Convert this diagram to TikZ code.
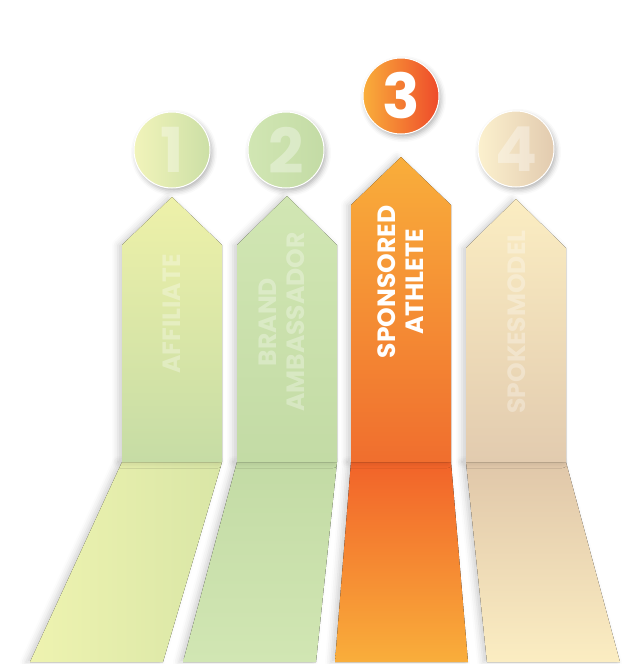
\documentclass[tikz,border=0pt]{standalone}
\usepackage{fontspec}
\setmainfont{Poppins}
\usetikzlibrary{shadows.blur}

\definecolor{affTop}{HTML}{EEF1A9}
\definecolor{affBot}{HTML}{C6DCA5}
\definecolor{affFloor}{HTML}{EEF3B0}
\definecolor{affFloorR}{HTML}{D9E6A6}
\definecolor{braTop}{HTML}{D1E6B3}
\definecolor{braBot}{HTML}{C3DBA5}
\definecolor{spoTop}{HTML}{F9AE3B}
\definecolor{spoBot}{HTML}{F06E2E}
\definecolor{spoRed}{HTML}{EE4A2A}
\definecolor{modTop}{HTML}{FBEDC2}
\definecolor{modBot}{HTML}{E2CBAF}

\tikzset{
  softshadow/.style={blur shadow={shadow xshift=-4pt, shadow yshift=0pt,
      shadow blur radius=6pt, shadow opacity=18}},
  badge/.style={circle, minimum size=76pt, inner sep=0pt, draw=white,
      line width=1pt, font=\bfseries\fontsize{62}{62}\selectfont,
      blur shadow={shadow xshift=2pt, shadow yshift=-3pt,
      shadow blur radius=5pt, shadow opacity=30}},
  steplabel/.style={rotate=90, align=center, text=white,
      font=\bfseries\fontsize{25}{28}\selectfont}
}

\newcommand{\ribbon}[7]
{
\def\rbL{#1} % left edge of the column
\def\rbTip{#2} % tip of the arrow head
\def\rbSh{#3} % shoulders of the arrow head
\def\rbBL{#4} % left end of the strip on the floor

\pgfmathsetmacro{\rbR}{\rbL+100} % right edge of the column
\pgfmathsetmacro{\rbM}{\rbL+50} % middle of the column
\pgfmathsetmacro{\rbBR}{\rbBL+133} % right end of the strip

% strip on the floor
\fill[softshadow, #7] (\rbL,462) -- (\rbR,462) -- (\rbBR,662) -- (\rbBL,662) -- cycle;
% column with its arrow head
\fill[softshadow, top color=#5, bottom color=#6]
  (\rbL,462) -- (\rbL,\rbSh) -- (\rbM,\rbTip) -- (\rbR,\rbSh) -- (\rbR,462) -- cycle;
}

\begin{document}
\begin{tikzpicture}[x=1pt, y=-1pt]
\useasboundingbox (0,0) rectangle (642,664);

% the four ribbons
\ribbon{122}{197}{245}{30}{affTop}{affBot}{left color=affFloor, right color=affFloorR}
\ribbon{237}{196}{245}{183}{braTop}{braBot}{top color=braBot, bottom color=braTop}
\ribbon{351}{157}{205}{335}{spoTop}{spoBot}{top color=spoBot!90!red, bottom color=spoTop}
\ribbon{466}{199}{248}{487}{modTop}{modBot}{top color=modBot!95!brown, bottom color=modTop}

% number badges
\foreach \i/\x/\y/\cl/\cm/\cr/\op in {1/172/150/affTop!80!white/affTop/affBot!85!affTop/0.35,
    2/286/150/braTop/braTop!50!braBot/braBot!90!affBot/0.35,
    3/401/96/spoTop/spoTop!60!spoBot/spoRed/1,
    4/516/149/modTop!80!white/modTop!50!modBot/modBot/0.35}
  \node[badge, left color=\cl, middle color=\cm, right color=\cr, text=white, text opacity=\op] (num\i) at (\x,\y) {\i};

% labels
\node[steplabel, text opacity=0.3] (lblAff) at (172,314) {AFFILIATE};
\node[steplabel, text opacity=0.3] (lblBra) at (282,322) {BRAND\\AMBASSADOR};
\node[steplabel] (lblSpo) at (401,282) {SPONSORED\\ATHLETE};
\node[steplabel, text opacity=0.3] (lblMod) at (517,322) {SPOKESMODEL};
\end{tikzpicture}
\end{document}
